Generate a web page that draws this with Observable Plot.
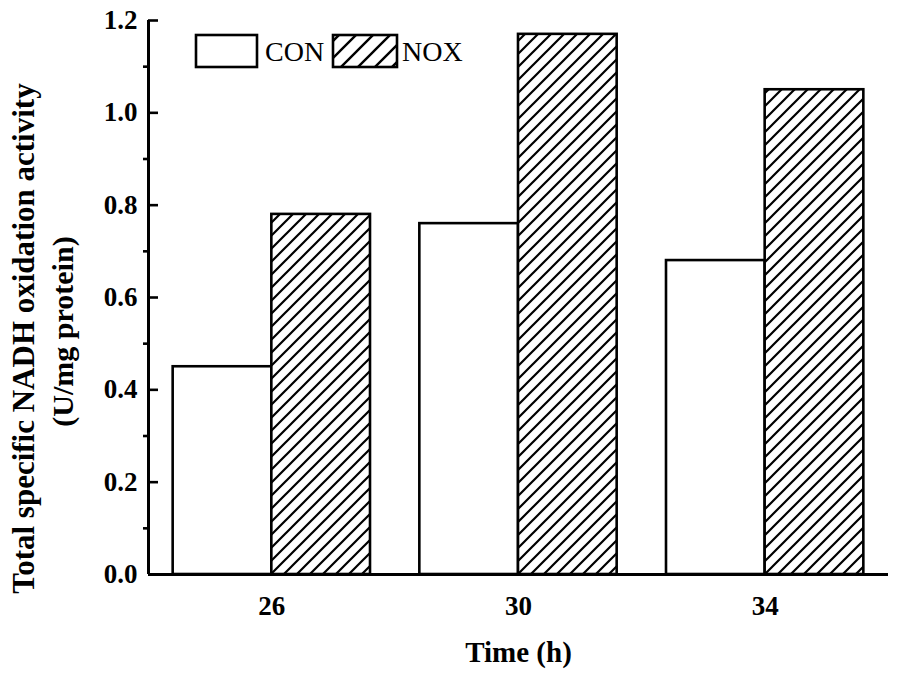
<!DOCTYPE html>
<html>
<head>
<meta charset="utf-8">
<script src="https://cdn.jsdelivr.net/npm/d3@7"></script>
<script src="https://cdn.jsdelivr.net/npm/@observablehq/plot@0.6"></script>
<style>
  html, body { margin: 0; padding: 0; background: #fff; }
  #chart { width: 900px; height: 681px; }
</style>
</head>
<body>
<div id="chart"></div>
<script>
// ---- data ----
const times = [26, 30, 34];
const conValues = [0.45, 0.76, 0.68];
const noxValues = [0.78, 1.17, 1.05];
const seriesNames = ["CON", "NOX"];
const yMajorTicks = [0, 0.2, 0.4, 0.6, 0.8, 1.0, 1.2];
const yMinorTicks = [0.1, 0.3, 0.5, 0.7, 0.9, 1.1];
const xLabel = "Time (h)";
const yLabelLine1 = "Total specific NADH oxidation activity";
const yLabelLine2 = "(U/mg protein)";

const con = times.map((t, i) => ({t, v: conValues[i]}));
const nox = times.map((t, i) => ({t, v: noxValues[i]}));

const W = 900, H = 681;
const mL = 148, mR = 12, mT = 20, mB = 107;
const plotW = W - mL - mR;
const half = 1.6; // bar width in time units
const font = "'Liberation Serif', 'Times New Roman', serif";

const chart = Plot.plot({
  width: W,
  height: H,
  marginLeft: mL,
  marginRight: mR,
  marginTop: mT,
  marginBottom: mB,
  style: {fontFamily: font, background: "white", color: "black", overflow: "visible"},
  x: {type: "linear", domain: [24, 36], axis: null},
  y: {domain: [0, 1.2], axis: null},
  marks: [
    Plot.rect(con, {x1: d => d.t - half, x2: d => d.t, y1: 0, y2: "v",
      fill: "white", stroke: "black", strokeWidth: 2.6}),
    Plot.rect(nox, {x1: d => d.t, x2: d => d.t + half, y1: 0, y2: "v",
      fill: "url(#hatch)", stroke: "black", strokeWidth: 2.6}),
    // y axis labels
    Plot.axisY({ticks: yMajorTicks, tickSize: 0, tickPadding: 11,
      tickFormat: d3.format(".1f"), fontSize: 27, fontWeight: "bold", label: null}),
    // major ticks (inward)
    Plot.tickY(yMajorTicks, {y: d => d, insetRight: plotW - 10, strokeWidth: 2.6}),
    // minor ticks (outward)
    Plot.tickY(yMinorTicks, {y: d => d, insetLeft: -5, insetRight: plotW, strokeWidth: 2.6}),
    // x axis labels
    Plot.axisX({ticks: times, tickSize: 0, tickPadding: 21,
      tickFormat: d3.format("d"), fontSize: 27, fontWeight: "bold", label: null}),
    Plot.text([xLabel], {frameAnchor: "bottom", dy: 87, fontSize: 29, fontWeight: "bold"}),
    Plot.text([yLabelLine1], {frameAnchor: "left", textAnchor: "middle", rotate: -90, dx: -124, dy: 41, fontSize: 31, fontWeight: "bold"}),
    Plot.text([yLabelLine2], {frameAnchor: "left", textAnchor: "middle", rotate: -90, dx: -85, dy: 34, fontSize: 30, fontWeight: "bold"}),
    // axis lines
    Plot.ruleX([24], {strokeWidth: 3}),
    Plot.ruleY([0], {strokeWidth: 3})
  ]
});

// hatch patterns
const svg = d3.select(chart);
const defs = svg.insert("defs", ":first-child");
function hatch(id, s, sw) {
  defs.append("pattern")
    .attr("id", id)
    .attr("patternUnits", "userSpaceOnUse")
    .attr("width", s).attr("height", s)
    .call(p => p.append("rect").attr("width", s).attr("height", s).attr("fill", "white"))
    .append("path")
    .attr("d", `M${-s/4},${s/4} L${s/4},${-s/4} M0,${s} L${s},0 M${s*3/4},${s*5/4} L${s*5/4},${s*3/4}`)
    .attr("stroke", "black")
    .attr("stroke-width", sw);
}
hatch("hatch", 13, 2.2);
hatch("hatchLegend", 17, 2.4);

// legend (inside plot, top-left)
const lg = svg.append("g").attr("font-family", font).attr("font-size", 28).attr("text-anchor", "start");
const legendItems = [
  {name: seriesNames[0], fill: "white", bx: 196, bw: 61, tx: 265},
  {name: seriesNames[1], fill: "url(#hatchLegend)", bx: 333, bw: 64, tx: 402}
];
for (const it of legendItems) {
  lg.append("rect").attr("x", it.bx).attr("y", 35).attr("width", it.bw).attr("height", 32)
    .attr("fill", it.fill).attr("stroke", "black").attr("stroke-width", 2.6);
  lg.append("text").attr("x", it.tx).attr("y", 61).attr("text-anchor", "start").text(it.name);
}

document.getElementById("chart").appendChild(chart);
</script>
</body>
</html>
